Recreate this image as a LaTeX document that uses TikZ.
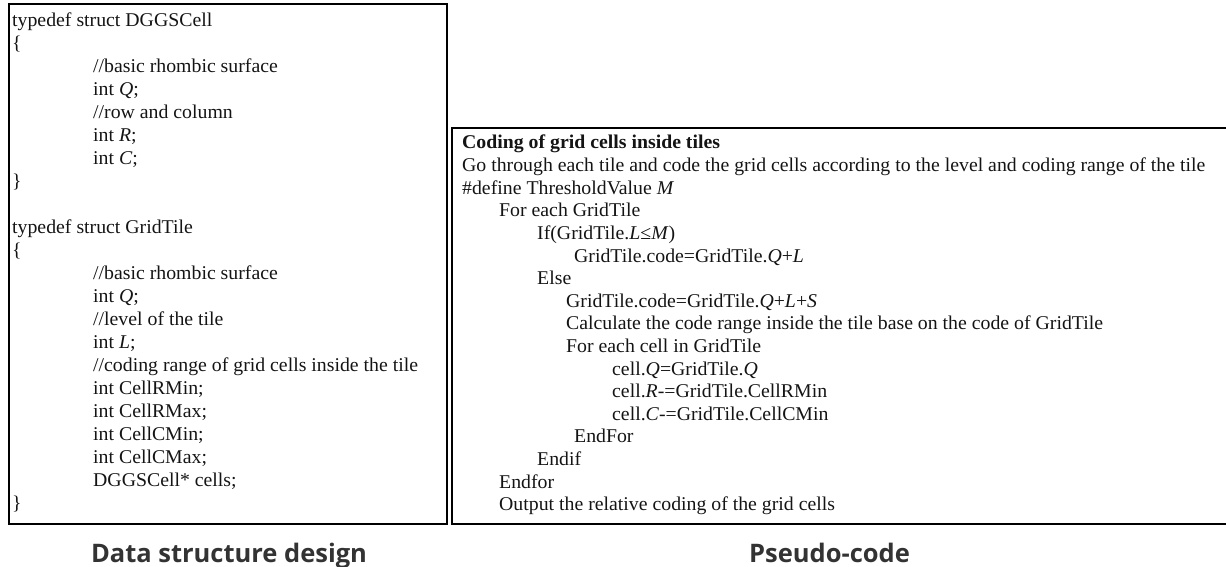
\documentclass[tikz,border=0pt]{standalone}
\usepackage{fontspec}
\setmainfont{Liberation Serif}[FakeStretch=1.015]
\newfontfamily\capfont{Open Sans}
\tikzset{
  panel/.style={draw=black, line width=2.4pt},
  code/.style={anchor=base west, inner sep=0pt, text=black!92,
               font=\fontsize{19.5}{23}\selectfont},
  caption/.style={anchor=base, inner sep=0pt, text=black!80,
                  font=\capfont\bfseries\fontsize{25.5}{30}\selectfont}
}
\begin{document}
\begin{tikzpicture}[x=1pt, y=-1pt]
  \useasboundingbox (0,0) rectangle (1226,567);
  \clip (0,0) rectangle (1226,567);

  % frames
  \draw[panel] (9,4) rectangle (447,524);
  \draw[panel] (452,128) rectangle (1240,524);

  % data structure declarations
  \node[code] (d1)  at (12,26.5)  {typedef struct DGGSCell};
  \node[code] (d2)  at (12,49.5)  {\{};
  \node[code] (d3)  at (93,72.5)  {//basic rhombic surface};
  \node[code] (d4)  at (93,95.5)  {int \textit{Q};};
  \node[code] (d5)  at (93,118.5) {//row and column};
  \node[code] (d6)  at (93,141.5) {int \textit{R};};
  \node[code] (d7)  at (93,164.5) {int \textit{C};};
  \node[code] (d8)  at (12,187.5) {\}};
  \node[code] (d10) at (12,233.5) {typedef struct GridTile};
  \node[code] (d11) at (12,256.5) {\{};
  \node[code] (d12) at (93,279.5) {//basic rhombic surface};
  \node[code] (d13) at (93,302.5) {int \textit{Q};};
  \node[code] (d14) at (93,325.5) {//level of the tile};
  \node[code] (d15) at (93,348.5) {int \textit{L};};
  \node[code] (d16) at (93,371.5) {//coding range of grid cells inside the tile};
  \node[code] (d17) at (93,394.5) {int CellRMin;};
  \node[code] (d18) at (93,417.5) {int CellRMax;};
  \node[code] (d19) at (93,440.5) {int CellCMin;};
  \node[code] (d20) at (93,463.5) {int CellCMax;};
  \node[code] (d21) at (93,486.5) {DGGSCell* cells;};
  \node[code] (d22) at (12,509.5) {\}};

  % coding procedure
  \node[code, font=\bfseries\fontsize{19.5}{23}\selectfont] (p1) at (462,149) {Coding of grid cells inside tiles};
  \node[code] (p2)  at (462,171.6) {Go through each tile and code the grid cells according to the level and coding range of the tile};
  \node[code] (p3)  at (462,194.2) {\#define ThresholdValue \textit{M}};
  \node[code] (p4)  at (499,216.8) {For each GridTile};
  \node[code] (p5)  at (537,239.4) {If(GridTile.\textit{L}≤\textit{M})};
  \node[code] (p6)  at (574,262.0) {GridTile.code=GridTile.\textit{Q}+\textit{L}};
  \node[code] (p7)  at (537,284.6) {Else};
  \node[code] (p8)  at (566,307.2) {GridTile.code=GridTile.\textit{Q}+\textit{L}+\textit{S}};
  \node[code] (p9)  at (566,329.8) {Calculate the code range inside the tile base on the code of GridTile};
  \node[code] (p10) at (566,352.4) {For each cell in GridTile};
  \node[code] (p11) at (612,375.0) {cell.\textit{Q}=GridTile.\textit{Q}};
  \node[code] (p12) at (612,397.6) {cell.\textit{R}-=GridTile.CellRMin};
  \node[code] (p13) at (612,420.2) {cell.\textit{C}-=GridTile.CellCMin};
  \node[code] (p14) at (574,442.8) {EndFor};
  \node[code] (p15) at (537,465.4) {Endif};
  \node[code] (p16) at (499,488.0) {Endfor};
  \node[code] (p17) at (499,510.6) {Output the relative coding of the grid cells};

  % captions
  \node[caption] (capA) at (229,562) {Data structure design};
  \node[caption] (capB) at (829.5,562) {Pseudo-code};
\end{tikzpicture}
\end{document}
